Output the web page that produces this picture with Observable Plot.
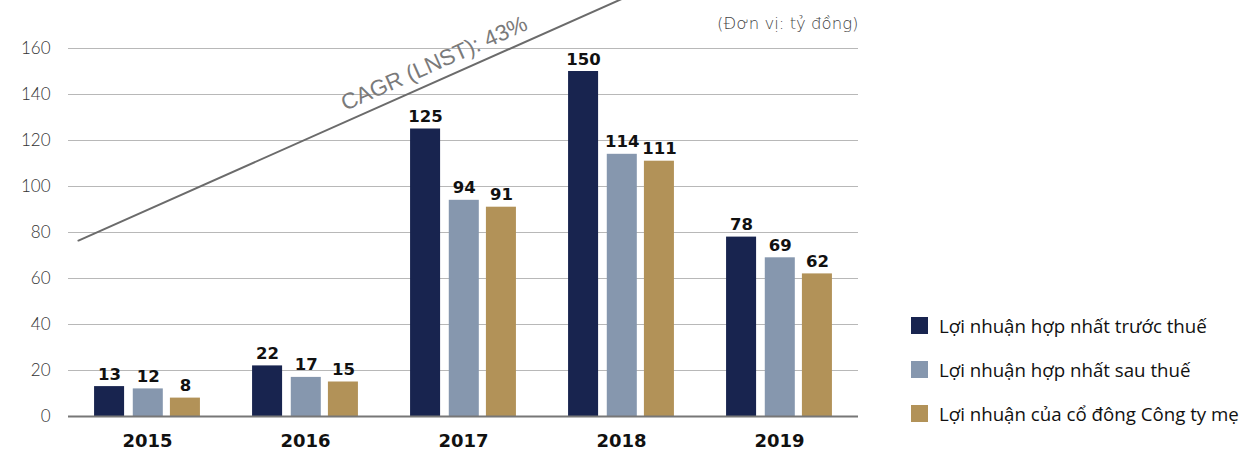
<!DOCTYPE html>
<html><head><meta charset="utf-8">
<script src="https://cdn.jsdelivr.net/npm/d3@7"></script>
<script src="https://cdn.jsdelivr.net/npm/@observablehq/plot@0.6"></script>
<style>
html,body{margin:0;padding:0;background:#fff;}
#wrap{position:relative;width:1252px;height:454px;overflow:hidden;}
#legend{position:absolute;left:911px;top:303px;font-family:"Open Sans",sans-serif;font-size:18.7px;color:#111;}
#legend .row{display:flex;align-items:center;height:44px;}
#legend .sw{width:17px;height:17px;margin-right:11px;}
</style></head>
<body><div id="wrap"><div id="legend"></div></div>
<script>
const years = [2015, 2016, 2017, 2018, 2019];
const seriesNames = ["Lợi nhuận hợp nhất trước thuế", "Lợi nhuận hợp nhất sau thuế", "Lợi nhuận của cổ đông Công ty mẹ"];
const preTax = [13, 22, 125, 150, 78];
const afterTax = [12, 17, 94, 114, 69];
const parentShare = [8, 15, 91, 111, 62];
const colors = ["#18244f", "#8697ae", "#b29258"];
const yTicks = [0, 20, 40, 60, 80, 100, 120, 140, 160];
const unitLabel = "(Đơn vị: tỷ đồng)";
const cagrLabel = "CAGR (LNST): 43%";
const cagrLine = [{year: 2014.563, value: 76.5}, {year: 2018.05, value: 183}];

const seriesValues = [preTax, afterTax, parentShare];
const offsets = [-0.24, 0.005, 0.24];
const halfW = 0.095;
const data = [];
seriesValues.forEach((vals, s) => years.forEach((yr, i) => data.push({
  series: seriesNames[s], year: yr, value: vals[i], xc: yr + offsets[s]
})));

const chart = Plot.plot({
  width: 1252, height: 454,
  marginLeft: 68, marginRight: 394, marginTop: 48, marginBottom: 38,
  style: {fontFamily: "Lato, sans-serif", background: "transparent", overflow: "visible"},
  x: {domain: [2014.5, 2019.5]},
  y: {domain: [0, 160]},
  color: {domain: seriesNames, range: colors},
  marks: [
    Plot.gridY(yTicks, {stroke: "#b8b8b8", strokeOpacity: 1, strokeWidth: 1}),
    Plot.axisY(yTicks, {tickSize: 0, tickPadding: 18, fontSize: 17, fill: "#333", label: null, fontWeight: 300}),
    Plot.axisX(years, {tickSize: 0, tickPadding: 18, fontSize: 18, fontWeight: "bold", fill: "#111", tickFormat: "d", label: null, fontFamily: "DejaVu Sans, sans-serif"}),
    Plot.rectY(data, {x1: d => d.xc - halfW, x2: d => d.xc + halfW, y1: 0, y2: "value", fill: "series"}),
    Plot.ruleY([0], {stroke: "#777", strokeWidth: 2}),
    Plot.text(data, {x: "xc", y: "value", text: d => String(d.value), lineAnchor: "bottom", dy: -7, fontSize: 16.5, fontWeight: "bold", fill: "#111", fontFamily: "DejaVu Sans, sans-serif"}),
    Plot.line(cagrLine, {x: "year", y: "value", stroke: "#6b6b6b", strokeWidth: 2}),
    Plot.text([cagrLabel], {x: 2016.815, y: 153.5, text: d => d, rotate: -24, fontSize: 22.5, fill: "#7a7a7a", fontFamily: "Liberation Sans, Arial, sans-serif"}),
    Plot.text([unitLabel], {x: 2019.5, y: 160, text: d => d, textAnchor: "end", dy: -25, fontSize: 16.5, fill: "#444", fontWeight: 300, fontFamily: "DejaVu Sans, sans-serif"})
  ]
});
document.getElementById("wrap").prepend(chart);
const lg = document.getElementById("legend");
seriesNames.forEach((n, i) => {
  const r = document.createElement("div"); r.className = "row";
  r.innerHTML = `<div class="sw" style="background:${colors[i]}"></div><span>${n}</span>`;
  lg.appendChild(r);
});
</script></body></html>
